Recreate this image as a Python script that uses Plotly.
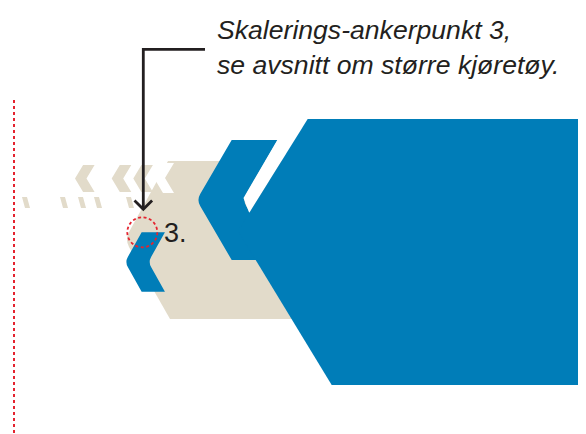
import plotly.graph_objects as go

W, H = 586, 434
PAGE_MARGIN = 8  # default body margin of the html page

# ---- colours ----
BLUE = "#007DB8"
BEIGE = "#E2DBCA"
RED = "#E4232F"
INK = "#231F20"

# ---- text ----
caption_lines = ["Skalerings-ankerpunkt 3,", "se avsnitt om større kjøretøy."]
anchor_label = "3."

# ---- geometry (pixel coordinates, y downward) ----
beige_hex = [(168, 161), (600, 161), (600, 319), (170, 319), ("Q", (125, 239.5), (129, 247), (129, 232))]
small_chevron_tips = [75, 111.7, 133.3]          # beige "<" marks
small_chevron_y = (165, 178.5, 192)
white_chevron_tip = 154
white_chevron_y = (163, 178, 193)
bar_x = [22, 60, 78, 94, 126]                     # sliced lower arms
bar_y = (197, 208)
blue_small = dict(tip=125, y0=232.3, yc=262, y1=291.7, s=0.56, w=23.3)
blue_mid = dict(tip=196.7, y0=140, yc=200, y1=260, s=0.583, w=46)
big_blue = [(307.7, 119), (600, 119), (600, 385), (331.7, 385), (238, 231)]
gap_wedge = [(277.3, 140), (243.5, 198), (249.3, 213), (307.7, 119)]
circle_c, circle_r = (142.3, 232.3), 15
guide_x, guide_y = 14, (100, 440)
leader = [(205, 49.3), (143.3, 49.3), (143.3, 208)]
arrow_head = [(134.5, 200.5), (143.3, 209.3), (152.1, 200.5)]


def poly(pts):
    return "M " + " L ".join(f"{x},{y}" for x, y in pts) + " Z"


def chevron(tip, y0, yc, y1, s, w, r=0):
    top_l = tip + s * (yc - y0)
    bot_l = tip + s * (y1 - yc)
    if r <= 0:
        pts = [(top_l, y0), (top_l + w, y0), (tip + w, yc), (bot_l + w, y1), (bot_l, y1), (tip, yc)]
        return poly(pts)
    d = r
    p = [
        f"M {top_l},{y0}", f"L {top_l + w},{y0}",
        f"L {tip + w + s * d},{yc - d}", f"Q {tip + w},{yc} {tip + w + s * d},{yc + d}",
        f"L {bot_l + w},{y1}", f"L {bot_l},{y1}",
        f"L {tip + s * d},{yc + d}", f"Q {tip},{yc} {tip + s * d},{yc - d}", "Z",
    ]
    return " ".join(p)


shapes = []

def add_path(path, fill, line_color=None, line_width=0):
    shapes.append(dict(type="path", xref="x", yref="y", path=path, fillcolor=fill,
                       line=dict(color=line_color or fill, width=line_width), layer="above"))

hx = beige_hex
path = (f"M {hx[0][0]},{hx[0][1]} L {hx[1][0]},{hx[1][1]} L {hx[2][0]},{hx[2][1]} "
        f"L {hx[3][0]},{hx[3][1]} L {hx[4][2][0]},{hx[4][2][1]} "
        f"Q {hx[4][1][0]},{hx[4][1][1]} {hx[4][3][0]},{hx[4][3][1]} Z")
add_path(path, BEIGE)

add_path(chevron(white_chevron_tip, *white_chevron_y, s=0.6, w=11), "white")

for t in small_chevron_tips:
    add_path(chevron(t, *small_chevron_y, s=0.6, w=11.5), BEIGE)

for bx in bar_x:
    y0, y1 = bar_y
    add_path(poly([(bx, y0), (bx + 5, y0), (bx + 8, y1), (bx + 3, y1)]), BEIGE)

add_path(chevron(**blue_small, r=5), BLUE)
add_path(chevron(**blue_mid, r=6), BLUE)
add_path(poly(gap_wedge), "white")
add_path(poly(big_blue), BLUE)

shapes.append(dict(type="line", xref="x", yref="y", x0=guide_x, x1=guide_x, y0=guide_y[0], y1=guide_y[1],
                   line=dict(color=RED, width=2, dash="3px,3px"), layer="above"))
cx, cy = circle_c
shapes.append(dict(type="circle", xref="x", yref="y", x0=cx - circle_r, x1=cx + circle_r,
                   y0=cy - circle_r, y1=cy + circle_r,
                   line=dict(color=RED, width=1.8, dash="3px,2.5px"), layer="above"))
shapes.append(dict(type="path", xref="x", yref="y",
                   path="M " + " L ".join(f"{x},{y}" for x, y in leader),
                   line=dict(color=INK, width=2.8), layer="above"))
shapes.append(dict(type="path", xref="x", yref="y",
                   path="M " + " L ".join(f"{x},{y}" for x, y in arrow_head),
                   line=dict(color=INK, width=2.8), layer="above"))

fig = go.Figure()
fig.add_trace(go.Scatter(x=[PAGE_MARGIN, W], y=[PAGE_MARGIN, H], mode="markers", marker=dict(opacity=0),
                         hoverinfo="skip", showlegend=False))

annotations = [
    dict(xref="x", yref="y", x=216, y=14, xanchor="left", yanchor="top", showarrow=False,
         text="<br>".join(caption_lines), align="left", borderpad=0,
         font=dict(family="Liberation Sans", size=26.6, color=INK, style="italic")),
    dict(xref="x", yref="y", x=163, y=217, xanchor="left", yanchor="top", showarrow=False,
         text=anchor_label, borderpad=0,
         font=dict(family="Liberation Sans", size=27, color=INK)),
]

fig.update_layout(
    width=W - PAGE_MARGIN, height=H - PAGE_MARGIN, margin=dict(l=0, r=0, t=0, b=0),
    paper_bgcolor="white", plot_bgcolor="white",
    xaxis=dict(range=[PAGE_MARGIN, W], visible=False, fixedrange=True),
    yaxis=dict(range=[H, PAGE_MARGIN], visible=False, fixedrange=True),
    shapes=shapes, annotations=annotations, showlegend=False,
)
fig.write_html("out.html", config={"displayModeBar": False})
